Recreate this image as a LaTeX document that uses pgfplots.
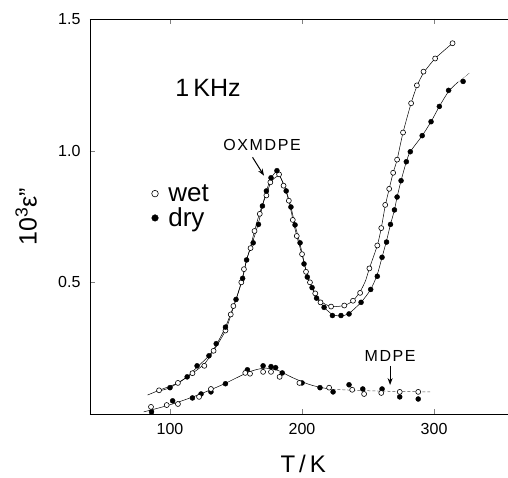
\documentclass[border=0pt]{standalone}
\usepackage{pgfplots}
\pgfplotsset{compat=1.18}
\usetikzlibrary{arrows.meta}
\usepackage{fontspec}
\setmainfont{Liberation Sans}
\begin{document}
\begin{tikzpicture}
\begin{axis}[
  at={(0,0)}, anchor=south west,
  scale only axis, width=418pt, height=395pt,
  xmin=39.4, xmax=356, ymin=0, ymax=1.5,
  axis y line*=left, y axis line style={-},
  tick align=inside,
  major tick length=5pt,
  xtick={100,200,300}, ytick={0.5,1.0,1.5},
  /pgf/number format/assume math mode=true,
  tick label style={font=\fontsize{16}{18}\selectfont},
  xticklabel style={yshift=-6pt},
  yticklabel style={xshift=-6pt, /pgf/number format/fixed, /pgf/number format/fixed zerofill, /pgf/number format/precision=1},
  xlabel={T\,/\,K},
  xlabel style={at={(axis description cs:0.51,0)}, anchor=center, yshift=-50pt, font=\fontsize{24}{28}\selectfont},
  ylabel={10\textsuperscript{3}ε''},
  ylabel style={at={(axis description cs:-0.153,0.5)}, anchor=center, font=\fontsize{25}{28}\selectfont},
  axis line style={line width=0.8pt},
  legend style={at={(axis cs:86,0.88)}, anchor=north west, draw=none, fill=none,
    inner sep=0pt, font=\fontsize{26}{28}\selectfont, row sep=1pt, column sep=8pt, cells={anchor=west}},
  legend image code/.code={\draw[#1, mark size=3.3pt] plot coordinates {(0.1cm,0cm)};},
  clip=false,
]
% fit lines
\addplot[black, line width=0.5pt, smooth, tension=0.4, forget plot] coordinates {
(83,0.072) (91.7,0.090) (106,0.118) (117,0.155) (126,0.190) (133,0.24) (142,0.317) (148,0.405)
(154,0.50) (158,0.585) (161,0.635) (164,0.695) (168,0.765) (173,0.835) (177,0.885) (182.6,0.905)
(186,0.872) (190,0.81) (193,0.74) (196,0.676) (200,0.605) (203,0.545) (206,0.50) (210,0.458)
(214,0.428) (222,0.408) (232,0.412) (238.6,0.43) (244,0.465) (248,0.505) (251,0.553) (257,0.64)
(260,0.706) (263,0.79) (266,0.855) (269,0.916) (272,0.966) (276.5,1.069) (282.6,1.18) (287,1.245)
(292,1.295) (300.8,1.35) (314,1.408)};
\addplot[black, line width=0.5pt, smooth, tension=0.4, forget plot] coordinates {
(92,0.088) (100,0.10) (113,0.141) (120.5,0.178) (129.5,0.221) (135,0.262) (142,0.33) (150,0.435)
(155,0.515) (158,0.585) (163,0.66) (167,0.725) (170,0.79) (173,0.847) (176.5,0.895) (181,0.922)
(184.5,0.89) (188,0.847) (191.6,0.786) (194.7,0.718) (198.5,0.645) (201.5,0.578) (204,0.525)
(207.6,0.48) (211,0.442) (216.7,0.405) (223,0.378) (229.5,0.372) (235.6,0.382) (244.7,0.424)
(252,0.473) (257,0.53) (260.6,0.595) (264,0.658) (267,0.72) (270,0.775) (272,0.824) (275,0.886)
(279,0.958) (282,0.996) (291,1.057) (297.7,1.11) (304,1.168) (311,1.225) (318,1.26)};
\addplot[black, line width=0.5pt, densely dotted, forget plot] coordinates {(318,1.26) (327,1.295)};
\addplot[black, line width=0.5pt, smooth, tension=0.5, forget plot] coordinates {
(80,0.008) (100,0.035) (120,0.070) (140,0.112) (160,0.160) (172,0.174) (182,0.165) (192,0.140)
(205,0.113) (215,0.100) (223,0.094)};
\addplot[black!70, line width=0.5pt, densely dashed, smooth, forget plot] coordinates {
(223,0.094) (240,0.090) (260,0.087) (280,0.085) (297,0.084)};
% OXMDPE wet
\addplot[only marks, mark=*, mark size=2.5pt, mark options={fill=white, draw=black, line width=0.6pt}] coordinates {
(91.7,0.090) (106,0.118) (117,0.155) (126,0.183) (133,0.24) (142,0.317) (146,0.378) (148,0.41)
(154,0.50) (156,0.55) (161,0.63) (164,0.695) (168,0.76) (173,0.83) (176,0.88) (182.6,0.91)
(186,0.867) (190,0.81) (193,0.737) (196,0.676) (200,0.607) (203,0.54) (206,0.50) (210,0.458)
(214,0.424) (222,0.408) (232,0.412) (238.6,0.43) (244,0.46) (251,0.553) (257,0.64)
(260,0.706) (263,0.794) (266,0.855) (269,0.916) (272,0.966) (276.5,1.069) (282.6,1.18) (287,1.248)
(292,1.30) (300.8,1.35) (314,1.408)};
\addlegendentry{wet}
% OXMDPE dry
\addplot[only marks, mark=*, mark size=2.5pt, mark options={fill=black, draw=black}] coordinates {
(100,0.10) (113,0.141) (120.5,0.183) (129.5,0.221) (135,0.267) (142,0.33) (150,0.435)
(155,0.515) (158,0.585) (163,0.65) (167,0.72) (170,0.79) (173,0.847) (176.5,0.897) (181,0.924)
(188,0.847) (191.6,0.786) (194.7,0.718) (198.5,0.65) (201.5,0.57) (204,0.52)
(207.6,0.48) (211,0.44) (216.7,0.405) (223,0.374) (229.5,0.374) (235.6,0.38) (244.7,0.424)
(252,0.473) (257,0.523) (260.6,0.595) (264,0.653) (267,0.72) (270,0.775) (272,0.824) (275,0.886)
(279,0.958) (282,0.996) (291,1.057) (297.7,1.11) (304,1.168) (311,1.229) (322,1.263)};
\addlegendentry{dry}
% MDPE dry
\addplot[only marks, mark=*, mark size=2.5pt, mark options={fill=black, draw=black}, forget plot] coordinates {
(86,0.008) (102,0.05) (117,0.061) (123.5,0.076) (131,0.084) (142,0.115) (158.6,0.168) (170.5,0.183)
(176.5,0.18) (180,0.176) (185,0.156) (200,0.118) (213.6,0.10) (223.5,0.084) (235.6,0.111)
(246,0.095) (260.6,0.095) (274,0.065) (288,0.057)};
% MDPE wet
\addplot[only marks, mark=*, mark size=2.5pt, mark options={fill=white, draw=black, line width=0.6pt}, forget plot] coordinates {
(85.6,0.027) (97.5,0.034) (106,0.038) (122,0.065) (131,0.095) (157,0.156) (160.6,0.153) (170.5,0.16)
(176.5,0.16) (183,0.141) (198,0.118) (220.5,0.10) (238,0.092) (247,0.076) (260,0.08) (274,0.084)
(288,0.084)};
% annotations
\node[font=\fontsize{25}{28}\selectfont] at (axis cs:128.8,1.237) {1\,KHz};
\node[font=\fontsize{16}{18}\selectfont\addfontfeatures{LetterSpace=10}] at (axis cs:169.7,1.023) {OXMDPE};
\draw[-{Stealth[length=7pt,width=5pt]}, line width=1pt] (axis cs:162.5,0.975) -- (axis cs:171.2,0.905);
\node[font=\fontsize{16}{18}\selectfont\addfontfeatures{LetterSpace=10}] at (axis cs:266.7,0.221) {MDPE};
\draw[-{Stealth[length=7pt,width=5pt]}, line width=1pt] (axis cs:266.7,0.183) -- (axis cs:266.7,0.11);
\end{axis}
\pgfresetboundingbox
\path (-90pt,-63pt) rectangle (418pt,414pt);
\end{tikzpicture}
\end{document}
